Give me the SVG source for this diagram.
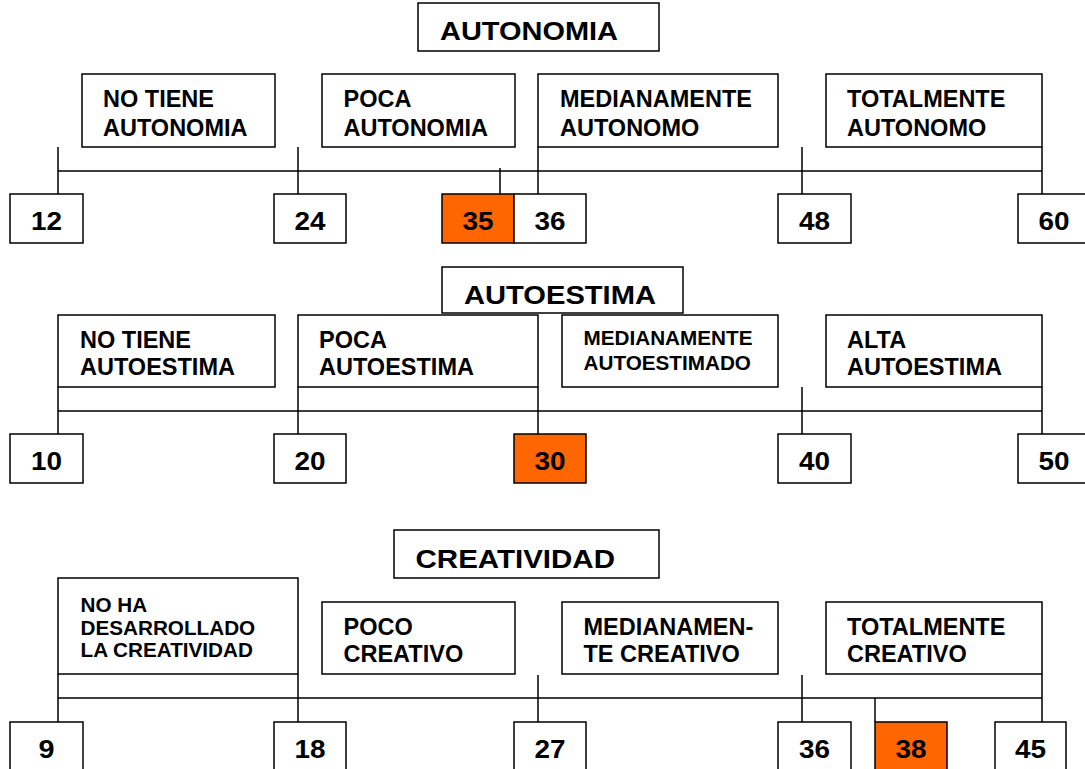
<svg xmlns="http://www.w3.org/2000/svg" width="1085" height="769" viewBox="0 0 1085 769">
<style>
.box{fill:#fff;stroke:#000;stroke-width:1.5}
.hi{fill:#ff6600;stroke:#000;stroke-width:1.5}
.ln{stroke:#000;stroke-width:1.5;fill:none}
text{font-family:"Liberation Sans",Arial,sans-serif;font-weight:bold;fill:#000}
.t{font-size:26px}
.l{font-size:23.5px}
.s{font-size:20.7px}
.n{font-size:25.5px;text-anchor:middle}
</style>
<rect width="1085" height="769" fill="#fff"/>
<g id="connectors" class="ln">
<path d="M58 171H1042M58 147V194M298 147V194M500 168V194M538 147V194M802 147V194M1042 147V194"/>
<path d="M58 411H1042M58 387V434M298 387V434M538 387V434M802 387V434M1042 387V434"/>
<path d="M58 698H1042M58 674V722M298 674V722M538 675V722M802 675V722M875 698V722M1042 674V722"/>
</g>
<g id="title-autonomia"><rect class="box" x="418" y="3" width="241" height="48"/><text class="t" x="440" y="39.6" textLength="178" lengthAdjust="spacingAndGlyphs">AUTONOMIA</text></g>
<g id="s1-l1"><rect class="box" x="82" y="74" width="193" height="73"/><text class="l" x="103" y="107">NO TIENE</text><text class="l" x="103" y="136">AUTONOMIA</text></g>
<g id="s1-l2"><rect class="box" x="322" y="74" width="193" height="73"/><text class="l" x="343.5" y="107">POCA</text><text class="l" x="343.5" y="136">AUTONOMIA</text></g>
<g id="s1-l3"><rect class="box" x="538" y="74" width="240" height="73"/><text class="l" x="560" y="107">MEDIANAMENTE</text><text class="l" x="560" y="136">AUTONOMO</text></g>
<g id="s1-l4"><rect class="box" x="826" y="74" width="216" height="73"/><text class="l" x="847" y="107">TOTALMENTE</text><text class="l" x="847" y="136">AUTONOMO</text></g>
<g id="n12"><rect class="box" x="10" y="194" width="73" height="49"/><text class="n" x="46.5" y="230" textLength="31" lengthAdjust="spacingAndGlyphs">12</text></g>
<g id="n24"><rect class="box" x="274" y="194" width="72" height="49"/><text class="n" x="310" y="230" textLength="31" lengthAdjust="spacingAndGlyphs">24</text></g>
<g id="n35"><rect class="hi" x="442" y="194" width="72" height="49"/><text class="n" x="478" y="230" textLength="31" lengthAdjust="spacingAndGlyphs">35</text></g>
<g id="n36a"><rect class="box" x="514" y="194" width="72" height="49"/><text class="n" x="550" y="230" textLength="31" lengthAdjust="spacingAndGlyphs">36</text></g>
<g id="n48"><rect class="box" x="778" y="194" width="73" height="49"/><text class="n" x="814.5" y="230" textLength="31" lengthAdjust="spacingAndGlyphs">48</text></g>
<g id="n60"><rect class="box" x="1018" y="194" width="72" height="49"/><text class="n" x="1054" y="230" textLength="31" lengthAdjust="spacingAndGlyphs">60</text></g>
<g id="title-autoestima"><rect class="box" x="442" y="267" width="241" height="46"/><text class="t" x="464" y="304" textLength="192" lengthAdjust="spacingAndGlyphs">AUTOESTIMA</text></g>
<g id="s2-l1"><rect class="box" x="58" y="315" width="217" height="72"/><text class="l" x="80" y="347.5">NO TIENE</text><text class="l" x="80" y="375">AUTOESTIMA</text></g>
<g id="s2-l2"><rect class="box" x="298" y="315" width="240" height="72"/><text class="l" x="319" y="347.5">POCA</text><text class="l" x="319" y="375">AUTOESTIMA</text></g>
<g id="s2-l3"><rect class="box" x="562" y="315" width="216" height="72"/><text class="s" x="583.5" y="344.5">MEDIANAMENTE</text><text class="s" x="583.5" y="369.5">AUTOESTIMADO</text></g>
<g id="s2-l4"><rect class="box" x="826" y="315" width="216" height="72"/><text class="l" x="847" y="347.5">ALTA</text><text class="l" x="847" y="375">AUTOESTIMA</text></g>
<g id="n10"><rect class="box" x="10" y="434" width="73" height="49"/><text class="n" x="46.5" y="470" textLength="31" lengthAdjust="spacingAndGlyphs">10</text></g>
<g id="n20"><rect class="box" x="274" y="434" width="72" height="49"/><text class="n" x="310" y="470" textLength="31" lengthAdjust="spacingAndGlyphs">20</text></g>
<g id="n30"><rect class="hi" x="514" y="434" width="72" height="49"/><text class="n" x="550" y="470" textLength="31" lengthAdjust="spacingAndGlyphs">30</text></g>
<g id="n40"><rect class="box" x="778" y="434" width="73" height="49"/><text class="n" x="814.5" y="470" textLength="31" lengthAdjust="spacingAndGlyphs">40</text></g>
<g id="n50"><rect class="box" x="1018" y="434" width="72" height="49"/><text class="n" x="1054" y="470" textLength="31" lengthAdjust="spacingAndGlyphs">50</text></g>
<g id="title-creatividad"><rect class="box" x="394" y="530" width="265" height="48"/><text class="t" x="415.5" y="567.7" textLength="199.5" lengthAdjust="spacingAndGlyphs">CREATIVIDAD</text></g>
<g id="s3-l1"><rect class="box" x="58" y="578" width="240" height="96"/><text class="s" x="80.5" y="611.7">NO HA</text><text class="s" x="80.5" y="635">DESARROLLADO</text><text class="s" x="80.5" y="657.3">LA CREATIVIDAD</text></g>
<g id="s3-l2"><rect class="box" x="322" y="602" width="193" height="72"/><text class="l" x="343.5" y="635">POCO</text><text class="l" x="343.5" y="662.3">CREATIVO</text></g>
<g id="s3-l3"><rect class="box" x="562" y="602" width="216" height="72"/><text class="l" x="583.5" y="635">MEDIANAMEN-</text><text class="l" x="583.5" y="662.3">TE CREATIVO</text></g>
<g id="s3-l4"><rect class="box" x="826" y="602" width="216" height="72"/><text class="l" x="847" y="635">TOTALMENTE</text><text class="l" x="847" y="662.3">CREATIVO</text></g>
<g id="n9"><rect class="box" x="10" y="722" width="73" height="50"/><text class="n" x="46.5" y="758" textLength="16" lengthAdjust="spacingAndGlyphs">9</text></g>
<g id="n18"><rect class="box" x="274" y="722" width="72" height="50"/><text class="n" x="310" y="758" textLength="31" lengthAdjust="spacingAndGlyphs">18</text></g>
<g id="n27"><rect class="box" x="514" y="722" width="72" height="50"/><text class="n" x="550" y="758" textLength="31" lengthAdjust="spacingAndGlyphs">27</text></g>
<g id="n36b"><rect class="box" x="778" y="722" width="73" height="50"/><text class="n" x="814.5" y="758" textLength="31" lengthAdjust="spacingAndGlyphs">36</text></g>
<g id="n38"><rect class="hi" x="875" y="722" width="72" height="50"/><text class="n" x="911" y="758" textLength="31" lengthAdjust="spacingAndGlyphs">38</text></g>
<g id="n45"><rect class="box" x="995" y="722" width="71" height="50"/><text class="n" x="1030.5" y="758" textLength="31" lengthAdjust="spacingAndGlyphs">45</text></g>
</svg>
